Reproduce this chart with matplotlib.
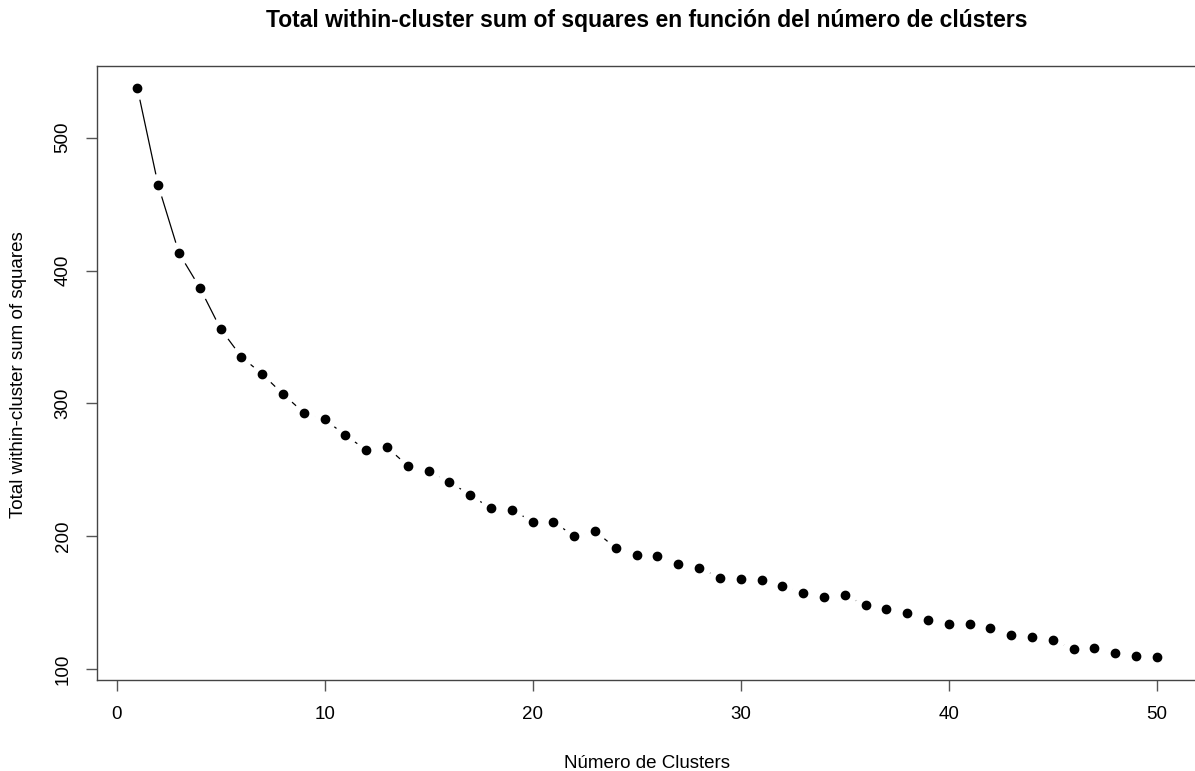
import numpy as np
import matplotlib
matplotlib.use("Agg")
import matplotlib.pyplot as plt

plt.rcParams['font.family'] = ['Liberation Sans', 'DejaVu Sans']

# Elbow curve: total within-cluster sum of squares for k = 1..50
k_values = list(range(1, 51))
wss = [537, 464, 413, 387, 356, 335, 322, 307, 293, 288,
       276, 265, 267, 253, 249, 241, 231, 221, 220, 211,
       211, 200, 204, 191, 186, 185, 179, 176, 169, 168,
       167, 163, 157, 154, 156, 148, 145, 142, 137, 134,
       134, 131, 126, 124, 122, 115, 116, 112, 110, 109]

title = "Total within-cluster sum of squares en función del número de clústers"
xlabel = "Número de Clusters"
ylabel = "Total within-cluster sum of squares"

fig = plt.figure(figsize=(11.95, 7.71), dpi=100)
# plot region runs slightly past the right edge of the canvas
ax = fig.add_axes([0.0809, 0.118, 0.9212, 0.7968])

# base-R style type="b": line with gaps around each point
ax.plot(k_values, wss, color='black', linewidth=0.9, zorder=1)
ax.plot(k_values, wss, linestyle='none', marker='o', markersize=15.5,
        markerfacecolor='white', markeredgecolor='white', zorder=2)
ax.plot(k_values, wss, linestyle='none', marker='o', markersize=6.0,
        markerfacecolor='black', markeredgecolor='black', zorder=3)

pad_x = 0.04 * (max(k_values) - min(k_values))
pad_y = 0.04 * (max(wss) - min(wss))
ax.set_xlim(min(k_values) - pad_x, max(k_values) + pad_x)
ax.set_ylim(min(wss) - pad_y, max(wss) + pad_y)

ax.set_xticks([0, 10, 20, 30, 40, 50])
ax.set_yticks([100, 200, 300, 400, 500])
ax.tick_params(axis='both', direction='out', length=8, width=1.0,
               color='#555555', labelcolor='black', labelsize=13.5)
ax.tick_params(axis='x', pad=11)
ax.tick_params(axis='y', pad=10)
for lab in ax.get_yticklabels():
    lab.set_rotation(90)
    lab.set_va('center')
for s in ax.spines.values():
    s.set_color('#444444')
    s.set_linewidth(1.0)

fig.text(0.541, 0.965, title, ha='center', va='baseline',
         fontsize=16.5, fontweight='bold', color='black')
fig.text(0.5418, 0.004, xlabel, ha='center', va='baseline',
         fontsize=13.5, color='black')
fig.text(0.0155, 0.5144, ylabel, ha='center', va='center', rotation=90,
         fontsize=13.5, color='black')

fig.savefig("out.png", dpi=100)
